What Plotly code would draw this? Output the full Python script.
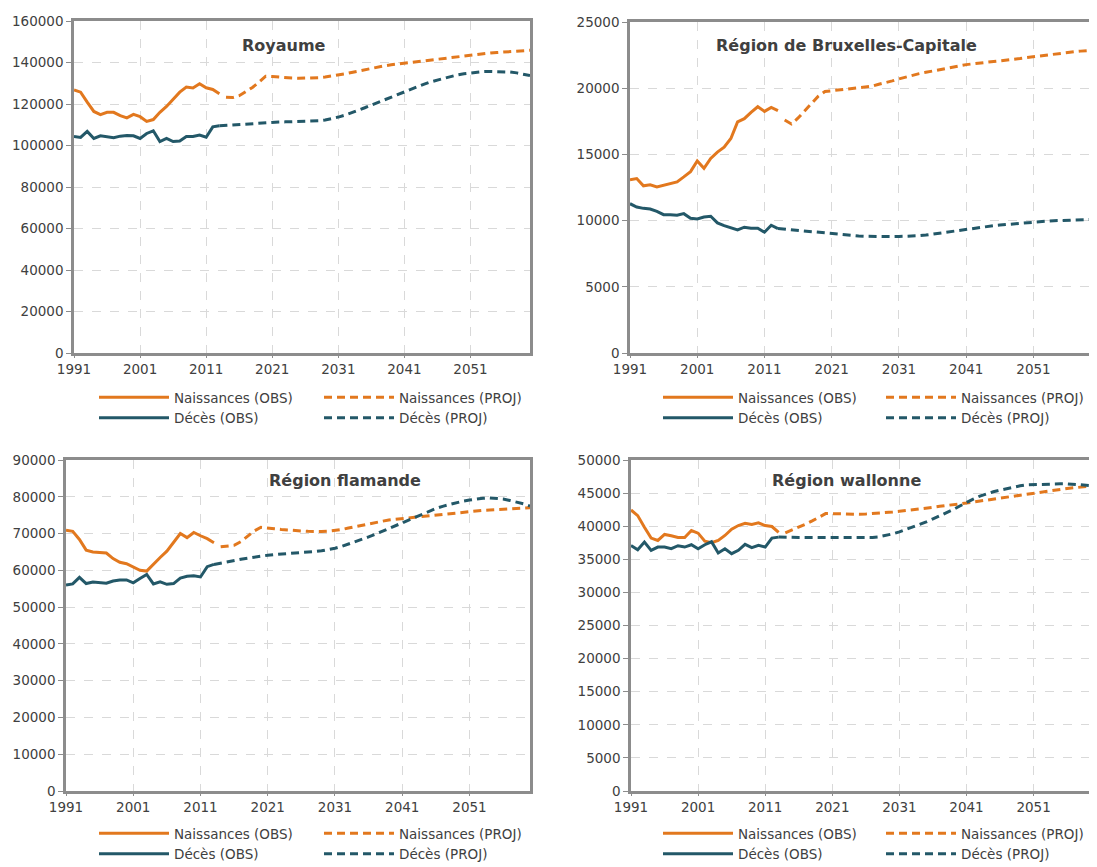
import plotly.graph_objects as go

# annees
annees_obs = list(range(1991, 2014))
annees_proj_naiss = list(range(2014, 2061))
annees_proj_deces = list(range(2013, 2061))

# Royaume
roy_naiss_obs = [126800, 125700, 120900, 116400, 114900, 116000, 116000, 114400, 113300, 115000,
                 113900, 111600, 112500, 116000, 118800, 122500, 125700, 128200, 127700, 129800,
                 127800, 127000, 124900]
roy_deces_obs = [104300, 103900, 106800, 103400, 104700, 104200, 103700, 104500, 104800, 104700,
                 103400, 105800, 107100, 101900, 103400, 101900, 102200, 104300, 104300, 105000,
                 104000, 109000, 109500]
roy_naiss_proj = [123300, 123100, 124000, 125800, 128000, 130500, 133400, 133200, 132900, 132700,
                  132500, 132400, 132400, 132500, 132700, 133000, 133400, 133900, 134500, 135200,
                  135900, 136600, 137300, 137900, 138400, 138900, 139300, 139600, 139900, 140300,
                  140700, 141100, 141500, 141900, 142400, 142800, 143200, 143600, 144000, 144300,
                  144600, 144800, 145000, 145200, 145400, 145600, 145900]
roy_deces_proj = [109500, 109700, 109900, 110200, 110500, 110800, 111000, 111100, 111200, 111300,
                  111400, 111500, 111500, 111600, 111700, 111900, 112300, 112900, 113700, 114600,
                  115700, 116900, 118200, 119500, 120800, 122100, 123400, 124700, 126000, 127300,
                  128500, 129600, 130700, 131600, 132500, 133300, 134000, 134600, 135000, 135400,
                  135600, 135700, 135700, 135600, 135400, 135000, 134400, 133700]

# Region de Bruxelles-Capitale
bru_naiss_obs = [13075, 13175, 12625, 12700, 12550, 12675, 12800, 12925, 13300, 13700,
                 14500, 13950, 14700, 15175, 15550, 16200, 17450, 17700, 18175, 18600,
                 18250, 18550, 18300]
bru_deces_obs = [11275, 11025, 10925, 10875, 10700, 10450, 10450, 10400, 10525, 10175,
                 10125, 10275, 10325, 9825, 9625, 9450, 9300, 9500, 9425, 9425,
                 9125, 9650, 9400]
bru_naiss_proj = [17600, 17300, 17750, 18300, 18850, 19400, 19750, 19800, 19850, 19900,
                  19950, 20000, 20050, 20150, 20300, 20400, 20550, 20700, 20850, 21000,
                  21100, 21200, 21300, 21400, 21500, 21600, 21700, 21780, 21840, 21890,
                  21940, 21990, 22040, 22100, 22170, 22240, 22310, 22380, 22450, 22520,
                  22590, 22650, 22700, 22750, 22800, 22840, 22880]
bru_deces_proj = [9400, 9350, 9300, 9250, 9200, 9150, 9100, 9050, 9000, 8950,
                  8900, 8870, 8840, 8820, 8800, 8780, 8780, 8790, 8800, 8810,
                  8830, 8860, 8910, 8980, 9050, 9130, 9210, 9290, 9370, 9440,
                  9500, 9560, 9610, 9660, 9710, 9760, 9810, 9850, 9890, 9930,
                  9960, 9990, 10010, 10030, 10050, 10070, 10080, 10090]

# Region flamande
fla_naiss_obs = [70900, 70600, 68400, 65500, 65000, 64800, 64700, 63200, 62200, 61800,
                 60900, 60000, 59800, 61800, 63500, 65200, 67500, 70000, 68900, 70300,
                 69400, 68600, 67500]
fla_deces_obs = [56000, 56300, 58100, 56400, 56800, 56700, 56500, 57100, 57400, 57400,
                 56600, 57800, 58900, 56300, 56900, 56200, 56400, 57900, 58400, 58500,
                 58200, 61000, 61600]
fla_naiss_proj = [66400, 66500, 66800, 67800, 69300, 70700, 71700, 71600, 71300, 71100,
                  70900, 70800, 70700, 70600, 70500, 70550, 70650, 70800, 71100, 71500,
                  71900, 72300, 72700, 73100, 73400, 73700, 73900, 74100, 74300, 74500,
                  74700, 74900, 75100, 75300, 75500, 75700, 75850, 76000, 76150, 76300,
                  76400, 76500, 76600, 76700, 76800, 76900, 77000]
fla_deces_proj = [61600, 62000, 62400, 62700, 63000, 63300, 63600, 63900, 64100, 64300,
                  64400, 64500, 64600, 64700, 64900, 65100, 65300, 65600, 66000, 66500,
                  67100, 67700, 68400, 69100, 69800, 70600, 71400, 72200, 73000, 73800,
                  74600, 75400, 76100, 76800, 77400, 77900, 78400, 78800, 79100, 79400,
                  79600, 79700, 79600, 79400, 79000, 78600, 78100, 77500]

# Region wallonne
wal_naiss_obs = [42450, 41600, 39850, 38200, 37850, 38750, 38550, 38300, 38300, 39350,
                 38950, 37750, 37500, 37850, 38600, 39550, 40100, 40450, 40250, 40500,
                 40100, 39950, 39050]
wal_deces_obs = [37100, 36450, 37600, 36350, 36850, 36850, 36600, 37050, 36850, 37200,
                 36600, 37200, 37650, 35950, 36600, 35850, 36350, 37250, 36750, 37100,
                 36850, 38200, 38350]
wal_naiss_proj = [39000, 39400, 39800, 40300, 40800, 41400, 41900, 41900, 41850, 41800,
                  41800, 41800, 41850, 41900, 41950, 42050, 42150, 42250, 42350, 42500,
                  42600, 42750, 42850, 43000, 43100, 43250, 43400, 43500, 43650, 43800,
                  43950, 44100, 44250, 44400, 44550, 44700, 44850, 45000, 45150, 45300,
                  45450, 45550, 45700, 45800, 45900, 46000, 46100]
wal_deces_proj = [38350, 38300, 38300, 38300, 38300, 38300, 38250, 38250, 38200, 38200,
                  38200, 38200, 38200, 38250, 38300, 38400, 38600, 38850, 39150, 39500,
                  39850, 40250, 40650, 41100, 41550, 42000, 42500, 43050, 43600, 44100,
                  44550, 44900, 45200, 45450, 45700, 45900, 46100, 46250, 46300, 46350,
                  46400, 46400, 46400, 46400, 46350, 46300, 46200, 46100]

titres = ["Royaume", "Région de Bruxelles-Capitale", "Région flamande", "Région wallonne"]
y_max = [160000, 25000, 90000, 50000]
y_pas = [20000, 5000, 10000, 5000]
x_ticks = [1991, 2001, 2011, 2021, 2031, 2041, 2051]

donnees = [
    (roy_naiss_obs, roy_deces_obs, roy_naiss_proj, roy_deces_proj),
    (bru_naiss_obs, bru_deces_obs, bru_naiss_proj, bru_deces_proj),
    (fla_naiss_obs, fla_deces_obs, fla_naiss_proj, fla_deces_proj),
    (wal_naiss_obs, wal_deces_obs, wal_naiss_proj, wal_deces_proj),
]

ORANGE = "#E2781E"
BLEU = "#235868"
GRIS = "#8C8C8C"
TXT = "#404040"
FONT = "DejaVu Sans"

# la page html ajoute une marge de 8px autour du graphique
OFF = 8
W, H = 1097 - OFF, 867 - OFF
# zones de trace en pixels de la page: x0, x1, y_haut, y_bas
zones = [(74, 530, 21, 353), (630, 1094, 22, 353), (66, 530, 460, 791), (631, 1094, 460, 791)]
# position des legendes (x colonne 1, x colonne 2, y)
leg_pos = [(94, 319, 382), (658, 881, 382), (94, 319, 818), (658, 881, 818)]
titre_pos = [(284, 45), (846, 45), (345, 481), (846, 481)]


def px(x):
    return (x - OFF) / W


def py(y):
    return 1 - (y - OFF) / H


fig = go.Figure()
layout = dict(
    width=W, height=H,
    margin=dict(l=0, r=0, t=0, b=0, autoexpand=False),
    paper_bgcolor="white", plot_bgcolor="white",
    font=dict(family=FONT, size=13, color=TXT),
    annotations=[],
)

for i in range(4):
    n_obs, d_obs, n_proj, d_proj = donnees[i]
    sfx = "" if i == 0 else str(i + 1)
    xa, ya = "x" + sfx, "y" + sfx
    leg_a = "legend" if i == 0 else "legend" + str(2 * i + 1)
    leg_b = "legend" + str(2 * i + 2)

    series = [
        (annees_obs, n_obs, ORANGE, "solid", "Naissances (OBS)", leg_a),
        (annees_obs, d_obs, BLEU, "solid", "Décès (OBS)", leg_a),
        (annees_proj_naiss, n_proj, ORANGE, "8px,5px", "Naissances (PROJ)", leg_b),
        (annees_proj_deces, d_proj, BLEU, "8px,5px", "Décès (PROJ)", leg_b),
    ]
    for xs, ys, col, dash, nom, leg in series:
        fig.add_trace(go.Scatter(
            x=xs, y=ys, mode="lines", name=nom,
            line=dict(color=col, width=3, dash=dash),
            xaxis=xa, yaxis=ya, legend=leg,
        ))

    x0, x1, yt, yb = zones[i]
    axe = dict(showline=True, linecolor=GRIS, linewidth=2.5, mirror=True,
               showgrid=True, gridcolor="#D9D9D9", griddash="dash", gridwidth=1,
               zeroline=False, ticks="outside", ticklen=5, tickcolor=GRIS,
               tickfont=dict(family=FONT, size=13.5, color=TXT))
    layout["xaxis" + sfx] = dict(axe, domain=[px(x0), px(x1)], range=[1991, 2060],
                                 tickvals=x_ticks, anchor=ya, ticklen=2)
    layout["yaxis" + sfx] = dict(axe, domain=[py(yb), py(yt)], range=[0, y_max[i]],
                                 dtick=y_pas[i], tick0=0, tickformat="d", anchor=xa)

    lx1, lx2, ly = leg_pos[i]
    for nom_leg, lx in ((leg_a, lx1), (leg_b, lx2)):
        layout[nom_leg] = dict(x=px(lx), y=py(ly), xanchor="left", yanchor="top",
                               orientation="v", itemwidth=70, bgcolor="rgba(0,0,0,0)",
                               font=dict(family=FONT, size=13.5, color=TXT),
                               tracegroupgap=0)

    tx, ty = titre_pos[i]
    layout["annotations"].append(dict(
        text="<b>" + titres[i] + "</b>", x=px(tx), y=py(ty), xref="paper", yref="paper",
        xanchor="center", yanchor="middle", showarrow=False,
        font=dict(family=FONT, size=16, color=TXT)))

fig.update_layout(**layout)
fig.write_html("out.html")
